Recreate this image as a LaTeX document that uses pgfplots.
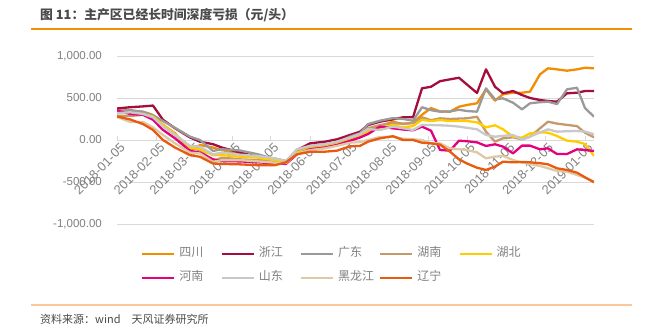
\documentclass[border=0pt]{standalone}
\usepackage{pgfplots}
\pgfplotsset{compat=1.18}
\usepackage{pgfplotstable}
\usepackage{fontspec}
\setmainfont{Liberation Sans}
\newfontfamily\cjk{Noto Sans CJK SC}

\definecolor{csc}{HTML}{F28C00}
\definecolor{czj}{HTML}{A50D3C}
\definecolor{cgd}{HTML}{9A9A9A}
\definecolor{chn}{HTML}{C49A6C}
\definecolor{chb}{HTML}{FFCC00}
\definecolor{chen}{HTML}{E5007F}
\definecolor{csd}{HTML}{C8C8C8}
\definecolor{chlj}{HTML}{DDC9A3}
\definecolor{cln}{HTML}{E85A0F}
\definecolor{gridgray}{HTML}{D9D9D9}
\definecolor{tickgray}{HTML}{808080}
\definecolor{titlegray}{HTML}{4A4A4A}
\definecolor{topline}{HTML}{F39200}
\definecolor{botline}{HTML}{F9C89B}

\pgfplotstableread{
u   sc   zj   gd   hn   hb   hen  sd   hlj  ln
0   355  375  345  290  330  350  320  275  280
13  345  390  357  285  320  310  330  215  245
26  337  400  335  300  310  300  310  215  190
36  297  410  295  265  280  240  270  150  120
46  180  240  225  180  180  120  160  60   0
58  80   140  145  60   70   20   60   -40  -90
73  -140 30   40   -80  -90  -130 -70  -150 -180
83  -60  -20  0    -120 -110 -150 -80  -160 -200
96  -90  -50  -130 -250 -180 -230 -170 -260 -280
105 -120 -90  -110 -210 -180 -250 -150 -240 -285
123 -170 -150 -125 -230 -200 -255 -175 -240 -290
141 -190 -200 -170 -240 -210 -265 -190 -255 -300
158 -220 -240 -230 -260 -240 -280 -220 -270 -300
169 -250 -258 -265 -270 -260 -285 -250 -275 -265
180 -140 -120 -130 -150 -150 -170 -110 -160 -170
193 -90  -40  -70  -90  -100 -110 -70  -120 -140
208 -70  -20  -50  -70  -80  -90  -50  -100 -139
220 -40  8    -30  -40  -50  -60  -20  -70  -127
233 8    60   40   20   0    -10  30   -32  -75
243 32   99   80   60   40   30   70   -25  -70
251 111  178  190  140  99   71   130  0    -20
263 167  218  230  178  139  159  119  35   20
276 218  246  260  199  178  139  159  39   45
286 190  270  250  195  150  125  140  15   0
296 205  270  230  200  165  115  119  8    0
305 300  615  390  270  240  159  180  0    -32
314 380  634  355  235  225  111  178  -40  -40
323 340  700  337  258  238  -119 175  -40  -55
333 337  722  340  250  226  -127 170  -99  -139
342 396  741  360  255  226  -8   159  -110 -230
350 417  660  345  258  226  -15  145  -119 -280
360 437  560  337  277  210  -28  127  -147 -330
369 603  841  615  99   151  -71  60   -218 -357
378 468  634  484  -20  175  -51  39   -198 -317
386 544  556  496  20   127  -79  50   -190 -258
396 563  583  444  32   39   -159 60   -238 -266
405 563  535  365  8    28   -67  8    -270 -261
413 575  500  437  39   79   -67  40   -286 -266
423 782  476  450  139  91   -111 90   -309 -276
431 853  464  456  218  87   -99  127  -337 -290
440 841  456  428  195  48   -167 99   -369 -337
450 825  556  603  180  -8   -167 105  -377 -357
460 841  563  622  165  -20  -111 107  -417 -389
468 860  583  380  87   -48  -119 100  -448 -444
477 853  583  277  32   -190 -131 68   -496 -503
}\datatable

\begin{document}
\begin{tikzpicture}
\path[use as bounding box] (0,0) rectangle (651pt,331pt);
\node[anchor=west, font=\cjk\bfseries\fontsize{12.8}{14}\selectfont, text=titlegray, inner sep=0pt] at (40pt,316pt) {图 11：主产区已经长时间深度亏损（元/头）};
\draw[color=topline, line width=1.3pt] (31pt,302pt) -- (632pt,302pt);
\draw[color=botline, line width=2pt] (31pt,26pt) -- (632pt,26pt);
\node[anchor=west, font=\cjk\fontsize{11}{13}\selectfont, text=titlegray, inner sep=0pt] at (40pt,12pt) {资料来源：wind\quad 天风证券研究所};

\begin{axis}[
  at={(117pt,107pt)}, anchor=south west,
  scale only axis, width=477pt, height=168pt,
  xmin=0, xmax=477, ymin=-1000, ymax=1000,
  axis x line=middle, axis y line=left,
  hide obscured x ticks=false,
  x axis line style={-, draw=gridgray, line width=0.8pt},
  y axis line style={draw=none},
  ytick={-1000,-500,0,500,1000},
  yticklabels={{-1,000.00},{-500.00},{0.00},{500.00},{1,000.00}},
  ymajorgrids, grid style={draw=gridgray, line width=0.8pt},
  ytick style={draw=none},
  xtick={0,39.7,75.6,115.4,153.8,193.6,232.0,271.8,311.5,350.0,389.7,428.2,467.9},
  xticklabels={2018-01-05,2018-02-05,2018-03-05,2018-04-05,2018-05-05,2018-06-05,2018-07-05,2018-08-05,2018-09-05,2018-10-05,2018-11-05,2018-12-05,2019-01-05},
  xtick style={draw=gridgray, line width=0.8pt},
  tick align=inside, major tick length=4pt,
  tick label style={color=tickgray},
  yticklabel style={font=\fontsize{11.5}{13}\selectfont, anchor=east, inner sep=0pt, xshift=-15pt},
  xticklabel style={font=\fontsize{12.8}{14}\selectfont, rotate=45, anchor=east, inner sep=1pt, yshift=-8pt, xshift=1pt},
  no markers,
  every axis plot/.append style={line width=2.3pt, line join=round},
  legend columns=5,
  legend style={at={(0.0503,-0.14)}, anchor=north west, draw=none, fill=none,
    inner sep=0pt, font=\cjk\fontsize{12}{14}\selectfont, text=tickgray,
    column sep=0pt, row sep=12pt,
    nodes={inner sep=0pt, text height=9pt, text depth=3pt}},
  legend image code/.code={\draw[#1, line width=2.3pt] (0pt,0pt) -- (32pt,0pt);},
]
\addplot[csc] table[x=u,y=sc]{\datatable};
\addlegendentry{\hspace{4pt}\makebox[41pt][l]{四川}}
\addplot[czj] table[x=u,y=zj]{\datatable};
\addlegendentry{\hspace{4pt}\makebox[41pt][l]{浙江}}
\addplot[cgd] table[x=u,y=gd]{\datatable};
\addlegendentry{\hspace{4pt}\makebox[41pt][l]{广东}}
\addplot[chn] table[x=u,y=hn]{\datatable};
\addlegendentry{\hspace{4pt}\makebox[41pt][l]{湖南}}
\addplot[chb] table[x=u,y=hb]{\datatable};
\addlegendentry{\hspace{4pt}\makebox[41pt][l]{湖北}}
\addplot[chen] table[x=u,y=hen]{\datatable};
\addlegendentry{\hspace{4pt}\makebox[41pt][l]{河南}}
\addplot[csd] table[x=u,y=sd]{\datatable};
\addlegendentry{\hspace{4pt}\makebox[41pt][l]{山东}}
\addplot[chlj] table[x=u,y=hlj]{\datatable};
\addlegendentry{\hspace{4pt}\makebox[41pt][l]{黑龙江}}
\addplot[cln] table[x=u,y=ln]{\datatable};
\addlegendentry{\hspace{4pt}\makebox[41pt][l]{辽宁}}
\end{axis}
\end{tikzpicture}
\end{document}
